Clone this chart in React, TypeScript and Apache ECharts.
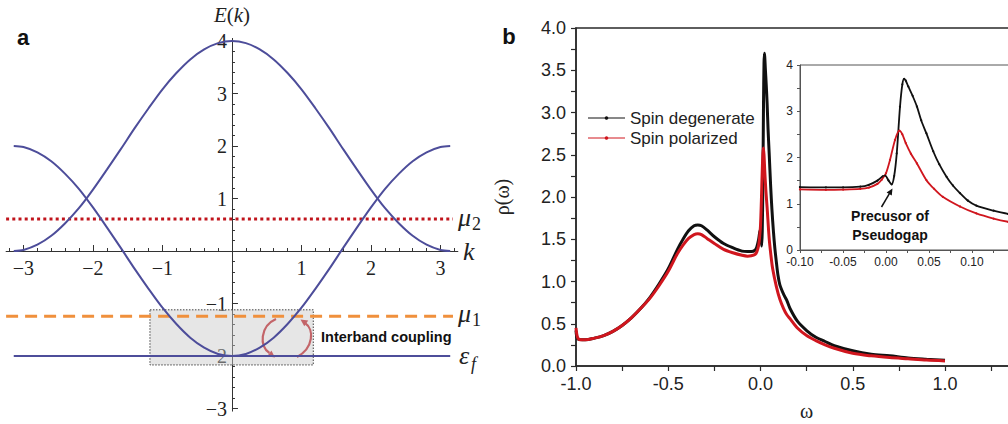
import React, { useEffect, useRef } from "react";
import * as echarts from "echarts";

// ---------- Panel a: band structure ----------
const kValues = [-3.14, -3.0, -2.8, -2.6, -2.4, -2.2, -2.0, -1.8, -1.6, -1.4, -1.2, -1.0, -0.8, -0.6, -0.4, -0.2, 0, 0.2, 0.4, 0.6, 0.8, 1.0, 1.2, 1.4, 1.6, 1.8, 2.0, 2.2, 2.4, 2.6, 2.8, 3.0, 3.14];
const upperBand = [0.0, 0.02, 0.12, 0.29, 0.53, 0.82, 1.17, 1.55, 1.94, 2.34, 2.72, 3.08, 3.39, 3.65, 3.84, 3.96, 4.0, 3.96, 3.84, 3.65, 3.39, 3.08, 2.72, 2.34, 1.94, 1.55, 1.17, 0.82, 0.53, 0.29, 0.12, 0.02, 0.0];
const lowerBand = [2.0, 1.98, 1.88, 1.71, 1.47, 1.18, 0.83, 0.45, 0.06, -0.34, -0.72, -1.08, -1.39, -1.65, -1.84, -1.96, -2.0, -1.96, -1.84, -1.65, -1.39, -1.08, -0.72, -0.34, 0.06, 0.45, 0.83, 1.18, 1.47, 1.71, 1.88, 1.98, 2.0];
const flatBandK = [-3.14, 3.14];
const flatBandE = -2.0;
const levelK = [-3.25, 3.18];
const mu1 = -1.24;
const mu2 = 0.61;
const couplingBoxK = [-1.18, 1.17];
const couplingBoxE = [-1.12, -2.17];
const kTickLabels = [-3, -2, -1, 1, 2, 3];
const eTickLabels = [-3, -2, -1, 1, 2, 3, 4];

// ---------- Panel b: density of states ----------
const degOmega = [-1.0, -0.99, -0.95, -0.9, -0.85, -0.8, -0.75, -0.7, -0.65, -0.6, -0.55, -0.5, -0.45, -0.42, -0.39, -0.36, -0.34, -0.32, -0.29, -0.25, -0.2, -0.15, -0.1, -0.07, -0.05, -0.03, -0.02, -0.01, -0.004, -0.001, 0.003, 0.0066, 0.0095, 0.0125, 0.0163, 0.019, 0.021, 0.023, 0.026, 0.031, 0.036, 0.041, 0.047, 0.055, 0.062, 0.0705, 0.078, 0.086, 0.095, 0.105, 0.125, 0.142, 0.16, 0.2, 0.25, 0.3, 0.35, 0.4, 0.5, 0.6, 0.7, 0.8, 0.9, 1.0];
const degRho = [0.42, 0.32, 0.31, 0.33, 0.36, 0.41, 0.48, 0.57, 0.68, 0.81, 0.97, 1.15, 1.38, 1.5, 1.6, 1.66, 1.67, 1.66, 1.61, 1.53, 1.45, 1.4, 1.36, 1.355, 1.355, 1.37, 1.41, 1.5, 1.59, 1.61, 1.5, 1.42, 1.6, 2.09, 3.1, 3.58, 3.7, 3.66, 3.53, 3.33, 3.1, 2.8, 2.52, 2.13, 1.85, 1.58, 1.39, 1.23, 1.07, 0.96, 0.85, 0.78, 0.68, 0.53, 0.42, 0.34, 0.29, 0.24, 0.18, 0.14, 0.12, 0.095, 0.08, 0.067];
const polOmega = [-1.0, -0.99, -0.97, -0.95, -0.9, -0.85, -0.8, -0.75, -0.7, -0.65, -0.6, -0.55, -0.5, -0.45, -0.42, -0.39, -0.36, -0.34, -0.32, -0.29, -0.25, -0.2, -0.15, -0.1, -0.07, -0.05, -0.03, -0.02, -0.01, -0.005, 0.0, 0.0047, 0.0105, 0.0155, 0.019, 0.023, 0.029, 0.036, 0.047, 0.056, 0.066, 0.086, 0.105, 0.125, 0.142, 0.16, 0.2, 0.25, 0.3, 0.35, 0.4, 0.5, 0.6, 0.7, 0.8, 0.9, 1.0];
const polRho = [0.45, 0.33, 0.31, 0.31, 0.33, 0.36, 0.41, 0.48, 0.57, 0.68, 0.8, 0.95, 1.12, 1.33, 1.43, 1.51, 1.555, 1.565, 1.555, 1.51, 1.45, 1.38, 1.34, 1.31, 1.3, 1.305, 1.32, 1.35, 1.43, 1.52, 1.66, 1.95, 2.38, 2.58, 2.5, 2.31, 2.08, 1.87, 1.51, 1.32, 1.15, 0.94, 0.79, 0.68, 0.61, 0.56, 0.45, 0.36, 0.3, 0.25, 0.21, 0.15, 0.12, 0.1, 0.085, 0.07, 0.06];
const seriesNames = ["Spin degenerate", "Spin polarized"];

const zip = (a: number[], b: number[]) => a.map((x, i) => [x, b[i]]);
const near = (v: number, step: number) => Math.abs(v / step - Math.round(v / step)) < 1e-6;

const SERIF = "'Liberation Serif', 'Times New Roman', serif";
const SANS = "'Liberation Sans', Arial, sans-serif";
const BAND = "#4d4d9a";

// panel a frame
const A_LEFT = 6.1, A_TOP = 38.4, A_W = 451.75, A_H = 372.75;
const K_MIN = -3.25, K_MAX = 3.25, E_MIN = -3.05, E_MAX = 4.05;

export default function App() {
  const ref = useRef<HTMLDivElement>(null);
  useEffect(() => {
    if (!ref.current) return;
    const chart = echarts.init(ref.current, null, { renderer: "svg" });

    const kMinor: number[] = [];
    for (let i = -16; i <= 16; i++) kMinor.push(Math.round(i * 2) / 10);
    const eMinor: number[] = [];
    for (let i = -15; i <= 20; i++) eMinor.push(Math.round(i * 2) / 10);

    // axes crossing at the origin
    const xOffset = -((0 - E_MIN) / (E_MAX - E_MIN)) * A_H;
    const yOffset = -((0 - K_MIN) / (K_MAX - K_MIN)) * A_W;

    const minus = (v: number) => String(v).replace("-", "\u2212");

    const arrowHead = (tip: number[], dir: number[], len: number, half: number) => {
      const b = [tip[0] - dir[0] * len, tip[1] - dir[1] * len];
      const p = [-dir[1], dir[0]];
      return [tip, [b[0] + p[0] * half, b[1] + p[1] * half], [b[0] - p[0] * half, b[1] - p[1] * half]];
    };

    const option: any = {
      animation: false,
      backgroundColor: "#fff",
      grid: [
        { left: A_LEFT, top: A_TOP, width: A_W, height: A_H, outerBoundsMode: "none", containLabel: false },
        { left: 576, top: 28, width: 461.25, height: 338, show: true, borderColor: "#2a2a2a", borderWidth: 1.5, outerBoundsMode: "none", containLabel: false },
        { left: 800, top: 65, width: 215, height: 185, show: true, borderColor: "#555", borderWidth: 1, backgroundColor: "#fff", outerBoundsMode: "none", containLabel: false },
      ],
      xAxis: [
        {
          gridIndex: 0, type: "value", min: K_MIN, max: K_MAX, position: "bottom", offset: xOffset,
          axisLine: { onZero: false, lineStyle: { color: "#333", width: 1 } },
          axisTick: { customValues: kMinor, inside: true, length: 3, lineStyle: { color: "#333" } },
          axisLabel: { customValues: kTickLabels, formatter: minus, fontFamily: SERIF, fontSize: 20, color: "#222", margin: 7 },
          splitLine: { show: false },
        },
        {
          gridIndex: 0, type: "value", min: K_MIN, max: K_MAX, position: "bottom", offset: xOffset,
          axisLine: { show: false, onZero: false },
          axisTick: { customValues: kTickLabels, inside: true, length: 6, lineStyle: { color: "#333" } },
          axisLabel: { show: false },
          splitLine: { show: false },
        },
        {
          gridIndex: 1, type: "value", min: -1, max: 1.5, interval: 0.25,
          name: "\u03c9", nameLocation: "middle", nameGap: 35,
          nameTextStyle: { fontFamily: SERIF, fontSize: 20, color: "#222" },
          axisLine: { onZero: false, lineStyle: { color: "#2a2a2a", width: 1.5 } },
          axisTick: { length: 5, lineStyle: { color: "#2a2a2a", width: 1.2 } },
          axisLabel: { formatter: (v: number) => (near(v, 0.5) && v < 1.2 ? v.toFixed(1) : ""), fontFamily: SANS, fontSize: 18, color: "#222", margin: 9 },
          splitLine: { show: false },
        },
        {
          gridIndex: 2, type: "value", min: -0.1, max: 0.15, interval: 0.025,
          axisLine: { onZero: false, lineStyle: { color: "#555", width: 1 } },
          axisTick: { length: 3, lineStyle: { color: "#555" } },
          axisLabel: { formatter: (v: number) => (near(v, 0.05) && v < 0.12 ? v.toFixed(2) : ""), fontFamily: SANS, fontSize: 12, color: "#222", margin: 6 },
          splitLine: { show: false },
        },
      ],
      yAxis: [
        {
          gridIndex: 0, type: "value", min: E_MIN, max: E_MAX, position: "left", offset: yOffset,
          axisLine: { onZero: false, lineStyle: { color: "#333", width: 1 } },
          axisTick: { customValues: eMinor, inside: true, length: 3, lineStyle: { color: "#333" } },
          axisLabel: { customValues: eTickLabels, formatter: minus, fontFamily: SERIF, fontSize: 20, color: "#222", margin: 5 },
          splitLine: { show: false },
        },
        {
          gridIndex: 0, type: "value", min: E_MIN, max: E_MAX, position: "left", offset: yOffset,
          axisLine: { show: false, onZero: false },
          axisTick: { customValues: eTickLabels, inside: true, length: 6, lineStyle: { color: "#333" } },
          axisLabel: { show: false },
          splitLine: { show: false },
        },
        {
          gridIndex: 1, type: "value", min: 0, max: 4, interval: 0.25,
          name: "\u03c1(\u03c9)", nameLocation: "middle", nameGap: 64, nameRotate: 90,
          nameTextStyle: { fontFamily: SERIF, fontSize: 20, color: "#222" },
          axisLine: { onZero: false, lineStyle: { color: "#2a2a2a", width: 1.5 } },
          axisTick: { length: 5, lineStyle: { color: "#2a2a2a", width: 1.2 } },
          axisLabel: { formatter: (v: number) => (near(v, 0.5) ? v.toFixed(1) : ""), fontFamily: SANS, fontSize: 18, color: "#222", margin: 10 },
          splitLine: { show: false },
        },
        {
          gridIndex: 2, type: "value", min: 0, max: 4, interval: 0.5,
          axisLine: { onZero: false, lineStyle: { color: "#555", width: 1 } },
          axisTick: { length: 3, lineStyle: { color: "#555" } },
          axisLabel: { formatter: (v: number) => (near(v, 1) ? String(Math.round(v)) : ""), fontFamily: SANS, fontSize: 12, color: "#222", margin: 7, verticalAlign: "middle" },
          splitLine: { show: false },
        },
      ],
      series: [
        {
          type: "line", xAxisIndex: 0, yAxisIndex: 0, z: 1, symbol: "none", silent: true,
          data: [[couplingBoxK[0], couplingBoxE[0]]],
          lineStyle: { width: 0 },
          markArea: {
            silent: true,
            itemStyle: { color: "rgba(200,200,200,0.45)", borderColor: "#444", borderWidth: 1, borderType: [1.5, 1.5] },
            data: [[{ coord: [couplingBoxK[0], couplingBoxE[0]] }, { coord: [couplingBoxK[1], couplingBoxE[1]] }]],
          },
        },
        {
          type: "line", xAxisIndex: 0, yAxisIndex: 0, z: 3, symbol: "none",
          data: [[levelK[0], mu2], [levelK[1], mu2]],
          lineStyle: { color: "#c0141c", width: 3.2, type: [3, 3.2] },
        },
        {
          type: "line", xAxisIndex: 0, yAxisIndex: 0, z: 3, symbol: "none",
          data: [[levelK[0], mu1], [levelK[1], mu1]],
          lineStyle: { color: "#f0903c", width: 3, type: [12, 7] },
        },
        {
          type: "line", xAxisIndex: 0, yAxisIndex: 0, z: 4, symbol: "none", smooth: 0.3,
          data: zip(kValues, upperBand), lineStyle: { color: BAND, width: 2 },
        },
        {
          type: "line", xAxisIndex: 0, yAxisIndex: 0, z: 4, symbol: "none", smooth: 0.3,
          data: zip(kValues, lowerBand), lineStyle: { color: BAND, width: 2 },
        },
        {
          type: "line", xAxisIndex: 0, yAxisIndex: 0, z: 4, symbol: "none",
          data: [[flatBandK[0], flatBandE], [flatBandK[1], flatBandE]], lineStyle: { color: BAND, width: 2 },
        },
        {
          name: seriesNames[0], type: "line", xAxisIndex: 2, yAxisIndex: 2, symbol: "none", smooth: 0.3,
          data: zip(degOmega, degRho), lineStyle: { color: "#111", width: 3 },
        },
        {
          name: seriesNames[1], type: "line", xAxisIndex: 2, yAxisIndex: 2, symbol: "none", smooth: 0.3,
          data: zip(polOmega, polRho), lineStyle: { color: "#d0161e", width: 3 },
        },
        {
          type: "line", xAxisIndex: 3, yAxisIndex: 3, symbol: "circle", symbolSize: 2, smooth: 0.3, z: 5,
          data: zip(degOmega, degRho), lineStyle: { color: "#111", width: 1.8 }, itemStyle: { color: "#111" },
        },
        {
          type: "line", xAxisIndex: 3, yAxisIndex: 3, symbol: "circle", symbolSize: 2, smooth: 0.3, z: 5,
          data: zip(polOmega, polRho), lineStyle: { color: "#d0161e", width: 1.8 }, itemStyle: { color: "#d0161e" },
        },
      ],
      graphic: [
        { type: "text", x: 23, y: 37, style: { text: "a", font: `bold 22px ${SANS}`, fill: "#111", textAlign: "center", textVerticalAlign: "middle" } },
        { type: "text", x: 509, y: 36, style: { text: "b", font: `bold 22px ${SANS}`, fill: "#111", textAlign: "center", textVerticalAlign: "middle" } },
        {
          type: "text", x: 232, y: 15,
          style: {
            text: "{i|E}{n|(}{i|k}{n|)}", textAlign: "center", textVerticalAlign: "middle",
            rich: { i: { fontFamily: SERIF, fontStyle: "italic", fontSize: 21, fill: "#222" }, n: { fontFamily: SERIF, fontSize: 21, fill: "#222" } },
          },
        },
        { type: "text", x: 463, y: 251, style: { text: "k", font: `italic 26px ${SERIF}`, fill: "#222", textVerticalAlign: "middle" } },
        { type: "text", x: 458, y: 217, style: { text: "\u03bc", font: `italic 26px ${SERIF}`, fill: "#222", textVerticalAlign: "middle" } },
        { type: "text", x: 472, y: 224, style: { text: "2", font: `18px ${SERIF}`, fill: "#222", textVerticalAlign: "middle" } },
        { type: "text", x: 458, y: 313, style: { text: "\u03bc", font: `italic 26px ${SERIF}`, fill: "#222", textVerticalAlign: "middle" } },
        { type: "text", x: 472, y: 320, style: { text: "1", font: `18px ${SERIF}`, fill: "#222", textVerticalAlign: "middle" } },
        { type: "text", x: 459, y: 355, style: { text: "\u03b5", font: `italic 26px ${SERIF}`, fill: "#222", textVerticalAlign: "middle" } },
        { type: "text", x: 471, y: 364, style: { text: "f", font: `italic 18px ${SERIF}`, fill: "#222", textVerticalAlign: "middle" } },
        { type: "text", x: 321, y: 337, style: { text: "Interband coupling", font: `bold 14.5px ${SANS}`, fill: "#111", textVerticalAlign: "middle" } },
        { type: "bezierCurve", shape: { x1: 276, y1: 319, cpx1: 260, cpy1: 326, cpx2: 259, cpy2: 347, x2: 269.5, y2: 353 }, style: { stroke: "#c0141c", lineWidth: 2.2, fill: "none" } },
        { type: "polygon", shape: { points: arrowHead([275, 357.5], [0.81, 0.59], 7, 3.5) }, style: { fill: "#c0141c" } },
        { type: "bezierCurve", shape: { x1: 297, y1: 357, cpx1: 314, cpy1: 348, cpx2: 314, cpy2: 329, x2: 305.5, y2: 323.5 }, style: { stroke: "#c0141c", lineWidth: 2.2, fill: "none" } },
        { type: "polygon", shape: { points: arrowHead([300.5, 319.5], [-0.82, -0.57], 7, 3.5) }, style: { fill: "#c0141c" } },
        // legend
        { type: "line", shape: { x1: 588, y1: 118, x2: 625, y2: 118 }, style: { stroke: "#111", lineWidth: 1 } },
        { type: "circle", shape: { cx: 606.5, cy: 118, r: 1.8 }, style: { fill: "#111" } },
        { type: "text", x: 630, y: 118, style: { text: seriesNames[0], font: `17px ${SANS}`, fill: "#222", textVerticalAlign: "middle" } },
        { type: "line", shape: { x1: 588, y1: 138, x2: 625, y2: 138 }, style: { stroke: "#d0161e", lineWidth: 1 } },
        { type: "circle", shape: { cx: 606.5, cy: 138, r: 1.8 }, style: { fill: "#d0161e" } },
        { type: "text", x: 630, y: 138, style: { text: seriesNames[1], font: `17px ${SANS}`, fill: "#222", textVerticalAlign: "middle" } },
        // inset annotation
        { type: "line", shape: { x1: 881.5, y1: 207, x2: 889.4, y2: 193.7 }, style: { stroke: "#111", lineWidth: 1.5 }, z: 100 },
        { type: "polygon", shape: { points: arrowHead([892.5, 188.5], [0.51, -0.86], 6.5, 3) }, style: { fill: "#111" }, z: 100 },
        { type: "text", x: 890, y: 216, z: 100, style: { text: "Precusor of", font: `bold 14px ${SANS}`, fill: "#111", textAlign: "center", textVerticalAlign: "middle" } },
        { type: "text", x: 890, y: 235, z: 100, style: { text: "Pseudogap", font: `bold 14px ${SANS}`, fill: "#111", textAlign: "center", textVerticalAlign: "middle" } },
      ],
    };
    chart.setOption(option);
    return () => chart.dispose();
  }, []);
  return <div ref={ref} style={{ position: "fixed", left: 0, top: 0, width: 1008, height: 424, background: "#fff" }} />;
}
